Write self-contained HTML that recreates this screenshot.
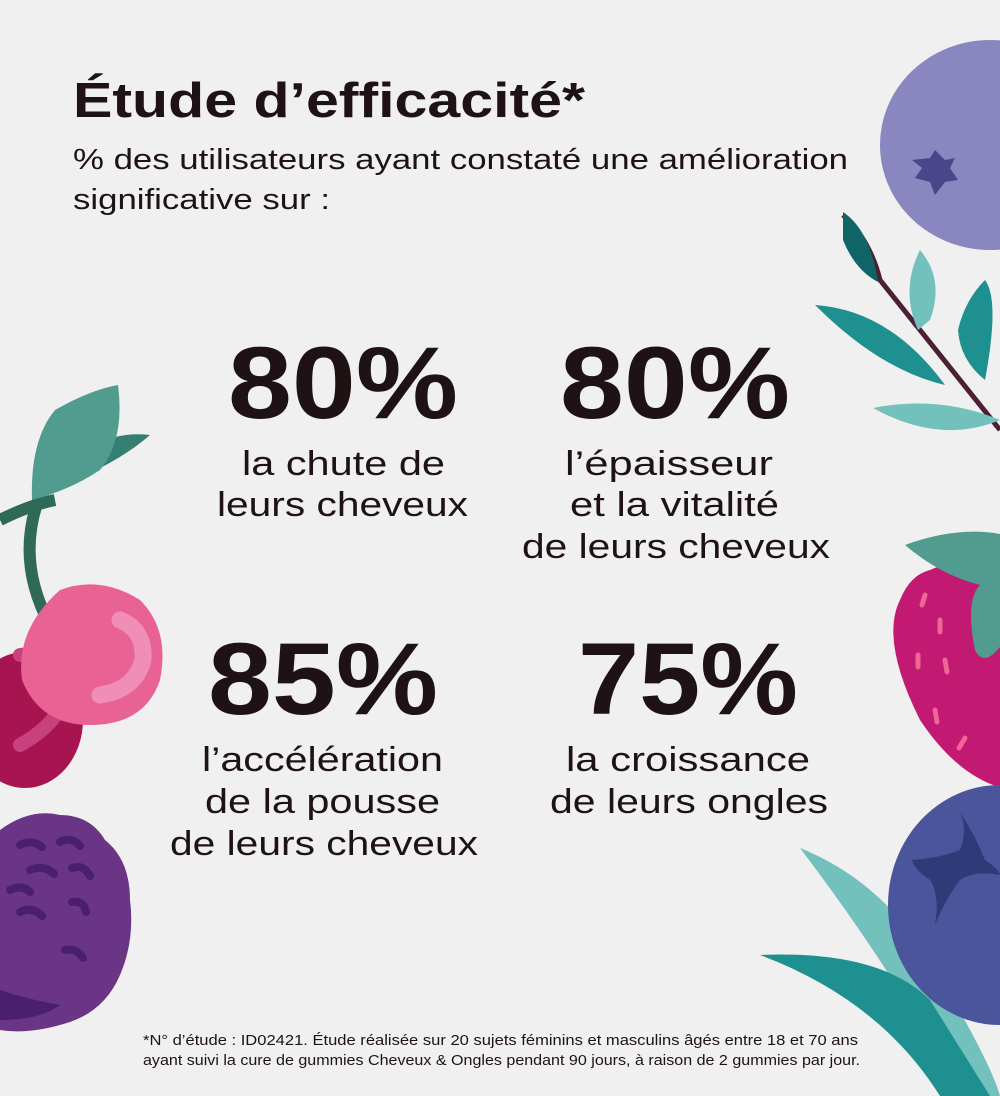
<!DOCTYPE html>
<html><head><meta charset="utf-8"><style>
body{margin:0;width:1000px;height:1096px;overflow:hidden;background:#f0f0f0;font-family:"Liberation Sans",sans-serif;}
</style></head><body>
<svg width="1000" height="1096" viewBox="0 0 1000 1096" xmlns="http://www.w3.org/2000/svg" style="position:absolute;left:0;top:0">
<rect width="1000" height="1096" fill="#f0f0f0"/>
<ellipse cx="990" cy="145" rx="110" ry="105" fill="#8a86bf"/>
<path d="M912 160 L930 158 L935 150 L945 160 L955 158 L950 168 L958 180 L945 182 L935 195 L930 182 L915 178 L922 168 Z" fill="#4a468a"/>
<path d="M843 215 Q870 240 880 280 L1000 430" stroke="#4d1f33" stroke-width="5" fill="none"/>
<path d="M843 212 Q870 230 878 282 Q855 270 843 240 Z" fill="#0f6466"/>
<path d="M920 250 Q945 280 930 320 L918 330 Q900 290 920 250 Z" fill="#73c1bd"/>
<path d="M985 280 Q1000 300 985 380 Q960 360 958 330 Q965 300 985 280 Z" fill="#1f9090"/>
<path d="M815 305 Q890 310 945 385 Q880 370 815 305 Z" fill="#1f9090"/>
<path d="M873 408 Q940 395 1000 420 Q940 445 873 408 Z" fill="#73c1bd"/>
<path d="M930 570 Q1000 540 1010 560 L1010 790 Q960 780 920 720 Q880 640 900 600 Q910 575 930 570 Z" fill="#c21a72"/>
<path d="M905 545 Q960 525 1005 535 L1005 640 Q985 670 975 650 Q965 600 980 585 Q940 575 905 545 Z" fill="#529c8f"/>
<g stroke="#ee6596" stroke-width="5" stroke-linecap="round" fill="none">
<path d="M925 595 l-3 10"/><path d="M940 620 l0 12"/><path d="M918 655 l0 12"/><path d="M945 660 l2 12"/><path d="M935 710 l2 12"/><path d="M965 738 l-6 10"/>
</g>
<path d="M800 848 Q880 880 930 960 Q990 1060 1000 1096 L960 1096 Q900 980 800 848 Z" fill="#73c1bd"/>
<path d="M760 955 Q880 950 930 1000 L990 1096 L940 1096 Q880 1000 760 955 Z" fill="#1f9090"/>
<ellipse cx="1000" cy="905" rx="112" ry="120" fill="#4b559c"/>
<path d="M912 860 Q940 858 960 850 Q968 830 960 812 Q975 835 985 860 Q1000 870 1000 875 Q975 870 960 880 Q945 900 935 925 Q940 895 930 880 Q915 870 912 860 Z" fill="#2f3b78"/>
<path d="M0 520 Q30 505 55 500" stroke="#2f6958" stroke-width="12" fill="none"/>
<path d="M40 495 Q15 560 50 625" stroke="#2f6958" stroke-width="12" fill="none"/>
<path d="M35 495 Q110 470 150 435 Q105 430 80 460 Z" fill="#357e72"/>
<path d="M32 500 Q30 440 55 410 Q90 390 118 385 Q125 440 100 470 Q70 490 32 500 Z" fill="#529c8f"/>
<ellipse cx="25" cy="720" rx="58" ry="68" fill="#a81450"/>
<path d="M20 655 Q55 650 70 680 Q65 720 20 745" stroke="#c8407c" stroke-width="14" stroke-linecap="round" fill="none"/>
<path d="M60 590 Q100 575 140 600 Q170 630 160 680 Q145 725 90 725 Q40 725 22 680 Q15 630 60 590 Z" fill="#e96294"/>
<path d="M120 620 Q145 630 143 660 Q135 690 100 695" stroke="#f08eb8" stroke-width="17" stroke-linecap="round" fill="none"/>
<path d="M0 830 Q30 808 60 815 Q90 815 105 840 Q130 860 130 900 Q135 940 120 975 Q105 1010 70 1022 Q30 1035 0 1030 Z" fill="#6a3584"/>
<path d="M0 990 Q30 1000 60 1005 Q40 1020 0 1020 Z" fill="#4a1f6b"/>
<g stroke="#4a1f6b" stroke-width="8" stroke-linecap="round" fill="none">
<path d="M20 845 q12 -6 22 2"/><path d="M60 842 q12 -6 20 4"/><path d="M30 870 q14 -6 24 4"/><path d="M72 868 q12 -4 18 8"/><path d="M10 890 q12 -6 20 2"/><path d="M20 912 q12 -6 22 4"/><path d="M72 902 q12 -2 14 10"/><path d="M65 950 q12 -2 18 8"/>
</g>
<g fill="#1e1214">
<text x="73" y="117" font-size="49" font-weight="bold" textLength="512" lengthAdjust="spacingAndGlyphs">Étude d’efficacité*</text>
<text x="73" y="169" font-size="29" textLength="775" lengthAdjust="spacingAndGlyphs">% des utilisateurs ayant constaté une amélioration</text>
<text x="73" y="209" font-size="29" textLength="257" lengthAdjust="spacingAndGlyphs">significative sur :</text>
<g font-weight="bold" font-size="102">
<text x="228" y="418" textLength="230" lengthAdjust="spacingAndGlyphs">80%</text>
<text x="560" y="418" textLength="230" lengthAdjust="spacingAndGlyphs">80%</text>
<text x="208" y="714" textLength="230" lengthAdjust="spacingAndGlyphs">85%</text>
<text x="578" y="714" textLength="220" lengthAdjust="spacingAndGlyphs">75%</text>
</g>
<g font-size="34">
<text x="242" y="475" textLength="203" lengthAdjust="spacingAndGlyphs">la chute de</text>
<text x="217" y="516" textLength="251" lengthAdjust="spacingAndGlyphs">leurs cheveux</text>
<text x="565" y="475" textLength="208" lengthAdjust="spacingAndGlyphs">l’épaisseur</text>
<text x="570" y="516" textLength="209" lengthAdjust="spacingAndGlyphs">et la vitalité</text>
<text x="522" y="558" textLength="308" lengthAdjust="spacingAndGlyphs">de leurs cheveux</text>
<text x="202" y="771" textLength="241" lengthAdjust="spacingAndGlyphs">l’accélération</text>
<text x="205" y="813" textLength="235" lengthAdjust="spacingAndGlyphs">de la pousse</text>
<text x="170" y="855" textLength="308" lengthAdjust="spacingAndGlyphs">de leurs cheveux</text>
<text x="566" y="771" textLength="244" lengthAdjust="spacingAndGlyphs">la croissance</text>
<text x="550" y="813" textLength="278" lengthAdjust="spacingAndGlyphs">de leurs ongles</text>
</g>
<text x="143" y="1045" font-size="14.5" textLength="715" lengthAdjust="spacingAndGlyphs">*N° d’étude : ID02421. Étude réalisée sur 20 sujets féminins et masculins âgés entre 18 et 70 ans</text>
<text x="143" y="1065" font-size="14.5" textLength="717" lengthAdjust="spacingAndGlyphs">ayant suivi la cure de gummies Cheveux &amp; Ongles pendant 90 jours, à raison de 2 gummies par jour.</text>
</g>
</svg>
</body></html>
